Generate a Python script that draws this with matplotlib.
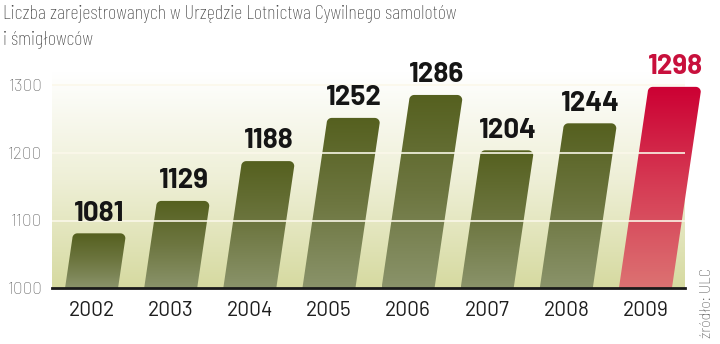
import numpy as np
import matplotlib
matplotlib.use("Agg")
import matplotlib.pyplot as plt
from matplotlib.path import Path
from matplotlib.patches import PathPatch
from matplotlib.colors import LinearSegmentedColormap

years = ["2002", "2003", "2004", "2005", "2006", "2007", "2008", "2009"]
values = [1081, 1129, 1188, 1252, 1286, 1204, 1244, 1298]
yticks = [1000, 1100, 1200, 1300]
title = "Liczba zarejestrowanych w Urzędzie Lotnictwa Cywilnego samolotów\ni śmigłowców"
source = "źródło: ULC"

W, H = 720, 344
fig = plt.figure(figsize=(W / 100, H / 100), dpi=100)
ax_l, ax_r, ax_b, ax_t = 52, 685, 288, 72
ax = fig.add_axes([ax_l / W, (H - ax_b) / H, (ax_r - ax_l) / W, (ax_b - ax_t) / H])
y0, y1 = 1000, 1320
ax.set_xlim(-0.5, 7.5)
ax.set_ylim(y0, y1)

px_x = (ax_r - ax_l) / 8.0          # pixels per x unit
px_y = (ax_b - ax_t) / (y1 - y0)    # pixels per y unit

# background gradient
bg = LinearSegmentedColormap.from_list("bg", ["#d6daa0", "#eeefd6", "#ffffff"])
grad = np.linspace(0, 1, 256).reshape(-1, 1)
ax.imshow(grad, cmap=bg, origin="lower", aspect="auto",
          extent=[-0.5, 7.5, y0, y1], zorder=0)

slant = 0.147          # horizontal px shift per vertical px
bw = 53 / px_x         # bar width in data units
r_px = 5.0
olive = LinearSegmentedColormap.from_list("ol", ["#8a936a", "#6d7640", "#55601f"])
redc = LinearSegmentedColormap.from_list("rd", ["#dc7272", "#d63d55", "#cc0033"])

def bar_path(xc, v):
    k = slant * px_y / px_x            # x shift per y unit
    xl0, xr0 = xc - bw / 2, xc + bw / 2
    rx, ry = r_px / px_x, r_px / px_y
    yc = v - ry
    xl_c = xl0 + k * (yc - y0)
    xr_c = xr0 + k * (yc - y0)
    verts = [(xl0, y0), (xr0, y0), (xr_c, yc)]
    for a in np.linspace(0, np.pi / 2, 10)[1:]:
        verts.append((xr_c - rx + rx * np.cos(a), yc + ry * np.sin(a)))
    for a in np.linspace(np.pi / 2, np.pi, 10):
        verts.append((xl_c + rx + rx * np.cos(a), yc + ry * np.sin(a)))
    verts.append((xl0, y0))
    codes = [Path.MOVETO] + [Path.LINETO] * (len(verts) - 2) + [Path.CLOSEPOLY]
    return Path(verts, codes), xl0, xr0 + k * (v - y0)

for i, (y, v) in enumerate(zip(years, values)):
    path, xa, xb = bar_path(i, v)
    patch = PathPatch(path, facecolor="none", edgecolor="none", zorder=2,
                      transform=ax.transData)
    cm = redc if i == len(values) - 1 else olive
    im = ax.imshow(grad, cmap=cm, origin="lower", aspect="auto",
                   extent=[xa, xb, y0, v], zorder=2)
    im.set_clip_path(patch)
    im.set_clip_box(fig.bbox)
    shift = slant * (v - y0) * px_y / px_x
    ax.annotate(str(v), (i + shift, v), xytext=(0, 5.5), textcoords="offset points",
                ha="center", va="bottom", fontsize=20, fontweight="bold",
                family=["Barlow", "DejaVu Sans"],
                color="#c8103c" if i == len(values) - 1 else "#151515",
                zorder=5, annotation_clip=False)

# grid lines over bars
for t in yticks[1:]:
    ax.axhline(t, color="#fbf8ea", lw=1.3, alpha=0.9, zorder=3)

ax.set_xlim(-0.5, 7.5)
ax.set_ylim(y0, y1)
for s in ["top", "right", "left"]:
    ax.spines[s].set_visible(False)
ax.spines["bottom"].set_color("#1a1a1a")
ax.spines["bottom"].set_linewidth(2)
ax.spines["bottom"].set_zorder(6)
ax.set_xticks(range(len(years)))
ax.set_xticklabels(years, fontsize=15, color="#1e1e1e",
                   family=["Barlow", "DejaVu Sans"])
ax.set_yticks(yticks)
ax.set_yticklabels([str(t) for t in yticks], fontsize=12.3, color="#5e5e5e",
                   family=["Barlow", "DejaVu Sans"], fontweight="light")
ax.tick_params(axis="both", length=0)
ax.tick_params(axis="x", pad=9)
ax.tick_params(axis="y", pad=7)

title_lines = title.split("\n")
for line, base in zip(title_lines, [19, 45]):
    fig.text(3 / W, 1 - base / H, line, ha="left", va="baseline", fontsize=14.6,
             color="#3c3c3c", family=["Barlow Condensed", "DejaVu Sans"],
             fontweight="light")
fig.text(707 / W, 6 / H, source, rotation=90, ha="center", va="bottom",
         fontsize=11.5, color="#555555", fontweight="light",
         family=["Barlow Semi Condensed", "DejaVu Sans"])

fig.savefig("out.png", dpi=100)
